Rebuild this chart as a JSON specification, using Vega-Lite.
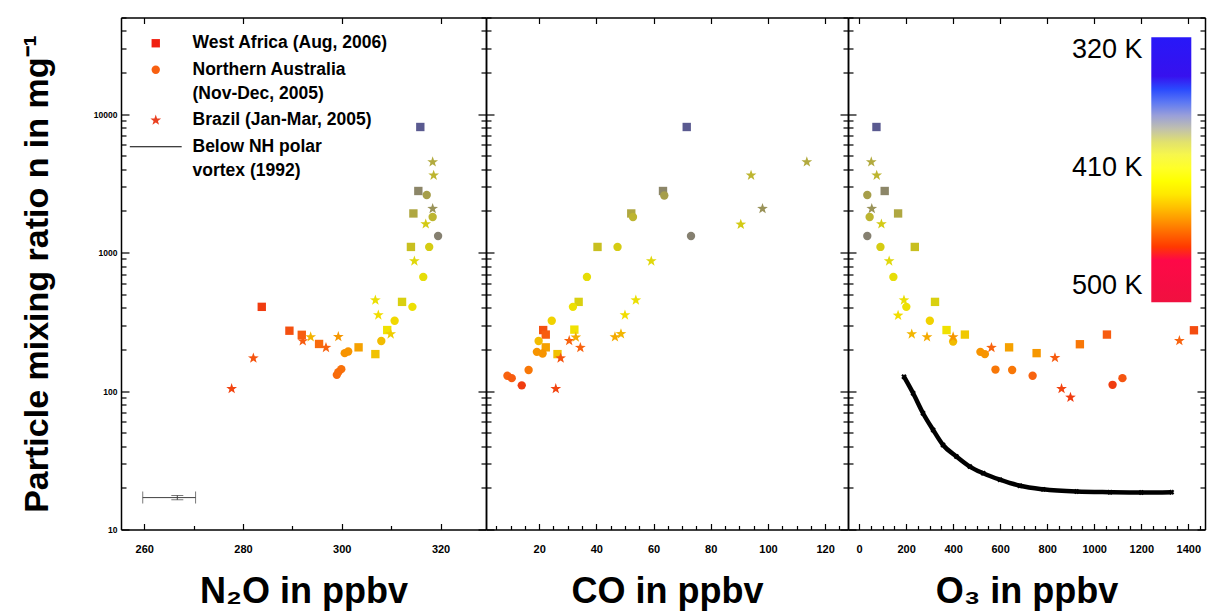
{
  "$schema": "https://vega.github.io/schema/vega-lite/v6.json",
  "autosize": {"type": "pad"},
  "padding": {"left": 19, "top": 13.5, "right": 4, "bottom": 3},
  "background": "white",
  "config": {
    "view": {"stroke": null},
    "style": {"guide-label": {"lineHeight": 24}},
    "axis": {"grid": false, "domainColor": "black", "domainWidth": 1.5, "tickColor": "black", "tickWidth": 1.2, "labelFont": "Liberation Sans", "labelFontWeight": "bold", "labelColor": "black", "titleFont": "Liberation Sans", "titleFontWeight": "bold", "titleColor": "black", "labelOverlap": false, "labelFlush": false, "labelBound": false}
  },
  "datasets": {
    "n2o": [
      {"region": "West Africa", "x": 315.9, "n": 8090, "theta": 358},
      {"region": "West Africa", "x": 315.5, "n": 2790, "theta": 370},
      {"region": "West Africa", "x": 314.5, "n": 1920, "theta": 381},
      {"region": "West Africa", "x": 314.0, "n": 1100, "theta": 390},
      {"region": "West Africa", "x": 312.2, "n": 441, "theta": 398},
      {"region": "West Africa", "x": 309.2, "n": 276, "theta": 418},
      {"region": "West Africa", "x": 306.8, "n": 185, "theta": 432},
      {"region": "West Africa", "x": 303.4, "n": 207, "theta": 443},
      {"region": "West Africa", "x": 295.4, "n": 219, "theta": 460},
      {"region": "West Africa", "x": 291.9, "n": 255, "theta": 464},
      {"region": "West Africa", "x": 289.4, "n": 273, "theta": 467},
      {"region": "West Africa", "x": 283.8, "n": 406, "theta": 472},
      {"region": "Northern Australia", "x": 317.2, "n": 2610, "theta": 378},
      {"region": "Northern Australia", "x": 318.4, "n": 1810, "theta": 386},
      {"region": "Northern Australia", "x": 319.5, "n": 1320, "theta": 368},
      {"region": "Northern Australia", "x": 317.7, "n": 1100, "theta": 396},
      {"region": "Northern Australia", "x": 316.5, "n": 668, "theta": 406},
      {"region": "Northern Australia", "x": 314.3, "n": 406, "theta": 414},
      {"region": "Northern Australia", "x": 310.7, "n": 322, "theta": 424},
      {"region": "Northern Australia", "x": 308.0, "n": 230, "theta": 434},
      {"region": "Northern Australia", "x": 300.6, "n": 188, "theta": 447},
      {"region": "Northern Australia", "x": 301.3, "n": 193, "theta": 447},
      {"region": "Northern Australia", "x": 299.9, "n": 144, "theta": 458},
      {"region": "Northern Australia", "x": 299.0, "n": 131, "theta": 460},
      {"region": "Northern Australia", "x": 299.3, "n": 137, "theta": 459},
      {"region": "Brazil", "x": 318.4, "n": 4520, "theta": 382},
      {"region": "Brazil", "x": 318.6, "n": 3620, "theta": 386},
      {"region": "Brazil", "x": 318.4, "n": 2080, "theta": 374},
      {"region": "Brazil", "x": 317.0, "n": 1610, "theta": 395},
      {"region": "Brazil", "x": 314.7, "n": 869, "theta": 402},
      {"region": "Brazil", "x": 306.8, "n": 454, "theta": 412},
      {"region": "Brazil", "x": 307.4, "n": 354, "theta": 422},
      {"region": "Brazil", "x": 309.9, "n": 258, "theta": 428},
      {"region": "Brazil", "x": 299.3, "n": 247, "theta": 446},
      {"region": "Brazil", "x": 296.8, "n": 206, "theta": 462},
      {"region": "Brazil", "x": 293.7, "n": 246, "theta": 437},
      {"region": "Brazil", "x": 292.1, "n": 230, "theta": 464},
      {"region": "Brazil", "x": 282.1, "n": 173, "theta": 466},
      {"region": "Brazil", "x": 277.7, "n": 104, "theta": 470}
    ],
    "co": [
      {"region": "West Africa", "x": 71.6, "n": 8090, "theta": 358},
      {"region": "West Africa", "x": 63.3, "n": 2790, "theta": 370},
      {"region": "West Africa", "x": 52.2, "n": 1920, "theta": 381},
      {"region": "West Africa", "x": 40.4, "n": 1100, "theta": 390},
      {"region": "West Africa", "x": 33.8, "n": 441, "theta": 398},
      {"region": "West Africa", "x": 32.3, "n": 278, "theta": 418},
      {"region": "West Africa", "x": 21.4, "n": 276, "theta": 467},
      {"region": "West Africa", "x": 22.3, "n": 256, "theta": 464},
      {"region": "West Africa", "x": 22.3, "n": 207, "theta": 443},
      {"region": "West Africa", "x": 26.4, "n": 185, "theta": 432},
      {"region": "Northern Australia", "x": 63.75, "n": 2590, "theta": 378},
      {"region": "Northern Australia", "x": 52.8, "n": 1810, "theta": 386},
      {"region": "Northern Australia", "x": 73.1, "n": 1320, "theta": 368},
      {"region": "Northern Australia", "x": 47.4, "n": 1100, "theta": 396},
      {"region": "Northern Australia", "x": 36.7, "n": 668, "theta": 406},
      {"region": "Northern Australia", "x": 31.8, "n": 406, "theta": 414},
      {"region": "Northern Australia", "x": 24.4, "n": 322, "theta": 426},
      {"region": "Northern Australia", "x": 19.8, "n": 230, "theta": 434},
      {"region": "Northern Australia", "x": 19.2, "n": 192, "theta": 447},
      {"region": "Northern Australia", "x": 21.2, "n": 187, "theta": 447},
      {"region": "Northern Australia", "x": 16.3, "n": 142, "theta": 456},
      {"region": "Northern Australia", "x": 8.9, "n": 129, "theta": 462},
      {"region": "Northern Australia", "x": 10.4, "n": 124, "theta": 464},
      {"region": "Northern Australia", "x": 13.9, "n": 110, "theta": 472},
      {"region": "Brazil", "x": 113.6, "n": 4520, "theta": 382},
      {"region": "Brazil", "x": 94.1, "n": 3620, "theta": 386},
      {"region": "Brazil", "x": 98.1, "n": 2080, "theta": 374},
      {"region": "Brazil", "x": 90.5, "n": 1600, "theta": 395},
      {"region": "Brazil", "x": 59.2, "n": 869, "theta": 402},
      {"region": "Brazil", "x": 53.8, "n": 454, "theta": 412},
      {"region": "Brazil", "x": 50.0, "n": 354, "theta": 422},
      {"region": "Brazil", "x": 48.6, "n": 259, "theta": 436},
      {"region": "Brazil", "x": 46.5, "n": 246, "theta": 440},
      {"region": "Brazil", "x": 30.5, "n": 231, "theta": 462},
      {"region": "Brazil", "x": 32.8, "n": 245, "theta": 440},
      {"region": "Brazil", "x": 34.4, "n": 206, "theta": 462},
      {"region": "Brazil", "x": 27.5, "n": 173, "theta": 466},
      {"region": "Brazil", "x": 25.8, "n": 104, "theta": 470}
    ],
    "o3": [
      {"region": "West Africa", "x": 74, "n": 8090, "theta": 358},
      {"region": "West Africa", "x": 109, "n": 2790, "theta": 370},
      {"region": "West Africa", "x": 166, "n": 1920, "theta": 381},
      {"region": "West Africa", "x": 237, "n": 1100, "theta": 390},
      {"region": "West Africa", "x": 323, "n": 441, "theta": 398},
      {"region": "West Africa", "x": 372, "n": 276, "theta": 418},
      {"region": "West Africa", "x": 450, "n": 256, "theta": 430},
      {"region": "West Africa", "x": 638, "n": 207, "theta": 443},
      {"region": "West Africa", "x": 755, "n": 188, "theta": 446},
      {"region": "West Africa", "x": 939, "n": 218, "theta": 456},
      {"region": "West Africa", "x": 1054, "n": 256, "theta": 464},
      {"region": "West Africa", "x": 1424, "n": 275, "theta": 468},
      {"region": "Northern Australia", "x": 35, "n": 2610, "theta": 378},
      {"region": "Northern Australia", "x": 45, "n": 1810, "theta": 386},
      {"region": "Northern Australia", "x": 35, "n": 1320, "theta": 368},
      {"region": "Northern Australia", "x": 91, "n": 1100, "theta": 396},
      {"region": "Northern Australia", "x": 146, "n": 668, "theta": 406},
      {"region": "Northern Australia", "x": 201, "n": 406, "theta": 414},
      {"region": "Northern Australia", "x": 301, "n": 322, "theta": 426},
      {"region": "Northern Australia", "x": 400, "n": 228, "theta": 434},
      {"region": "Northern Australia", "x": 516, "n": 192, "theta": 447},
      {"region": "Northern Australia", "x": 535, "n": 185, "theta": 447},
      {"region": "Northern Australia", "x": 580, "n": 143, "theta": 456},
      {"region": "Northern Australia", "x": 651, "n": 142, "theta": 456},
      {"region": "Northern Australia", "x": 738, "n": 129, "theta": 462},
      {"region": "Northern Australia", "x": 1078, "n": 111, "theta": 472},
      {"region": "Northern Australia", "x": 1120, "n": 124, "theta": 466},
      {"region": "Brazil", "x": 52, "n": 4520, "theta": 382},
      {"region": "Brazil", "x": 75, "n": 3620, "theta": 386},
      {"region": "Brazil", "x": 54, "n": 2080, "theta": 374},
      {"region": "Brazil", "x": 95, "n": 1610, "theta": 395},
      {"region": "Brazil", "x": 128, "n": 869, "theta": 402},
      {"region": "Brazil", "x": 191, "n": 454, "theta": 412},
      {"region": "Brazil", "x": 166, "n": 352, "theta": 422},
      {"region": "Brazil", "x": 224, "n": 258, "theta": 436},
      {"region": "Brazil", "x": 289, "n": 246, "theta": 440},
      {"region": "Brazil", "x": 400, "n": 246, "theta": 446},
      {"region": "Brazil", "x": 563, "n": 206, "theta": 462},
      {"region": "Brazil", "x": 833, "n": 174, "theta": 464},
      {"region": "Brazil", "x": 861, "n": 104, "theta": 470},
      {"region": "Brazil", "x": 899, "n": 90, "theta": 472},
      {"region": "Brazil", "x": 1362, "n": 231, "theta": 462}
    ],
    "vortex": [
      {"x": 191, "n": 127}, {"x": 230, "n": 96.4}, {"x": 272, "n": 69.2}, {"x": 315, "n": 52.4},
      {"x": 357, "n": 40.8}, {"x": 414, "n": 33.7}, {"x": 471, "n": 28.5}, {"x": 528, "n": 25.5},
      {"x": 599, "n": 22.9}, {"x": 684, "n": 20.7}, {"x": 783, "n": 19.5}, {"x": 925, "n": 18.8},
      {"x": 1067, "n": 18.6}, {"x": 1200, "n": 18.5}, {"x": 1329, "n": 18.6}
    ]
  },
  "spacing": 0,
  "bounds": "flush",
  "resolve": {"scale": {"x": "independent", "y": "independent", "shape": "independent", "fill": "independent", "stroke": "independent"}, "axis": {"x": "independent", "y": "independent"}},
  "hconcat": [
    {
      "width": 365, "height": 512,
      "layer": [
        {
          "data": {"name": "n2o"},
          "mark": {"type": "point", "filled": true, "opacity": 1, "size": 70},
          "encoding": {
            "x": {"field": "x", "type": "quantitative", "scale": {"domain": [255.3, 329.2], "nice": false, "zero": false},
              "axis": {"orient": "bottom", "values": [260, 270, 280, 290, 300, 310, 320], "labelExpr": "datum.value % 20 == 0 ? datum.label : ''", "tickSize": {"condition": {"test": "datum.value % 20 == 0", "value": -6}, "value": -4}, "labelPadding": 19.5, "labelFontSize": 11, "title": "N₂O in ppbv", "titleFontSize": 36, "titleY": 73, "titleBaseline": "alphabetic"}},
            "y": {"field": "n", "type": "quantitative", "scale": {"type": "log", "domain": [10, 50000], "nice": false},
              "axis": {"orient": "left", "values": [10, 20, 30, 40, 50, 60, 70, 80, 90, 100, 200, 300, 400, 500, 600, 700, 800, 900, 1000, 2000, 3000, 4000, 5000, 6000, 7000, 8000, 9000, 10000, 20000, 30000, 40000, 50000], "format": "d", "labelExpr": "indexof([10, 100, 1000, 10000], datum.value) >= 0 ? datum.label : ''", "tickSize": {"condition": {"test": "indexof([10, 100, 1000, 10000], datum.value) >= 0", "value": -8}, "value": -5}, "labelPadding": 12, "labelFontSize": 8.5, "title": "Particle mixing ratio n in mg⁻¹", "titleFontSize": 34, "titleX": -74, "titleBaseline": "alphabetic", "titleAngle": 270}},
            "shape": {"field": "region", "type": "nominal",
              "scale": {"domain": ["West Africa", "Northern Australia", "Brazil", "Below NH polar vortex"], "range": ["square", "circle", "M0,-1.35L0.317,-0.437L1.284,-0.417L0.514,0.167L0.794,1.092L0,0.54L-0.794,1.092L-0.514,0.167L-1.284,-0.417L-0.317,-0.437Z", "M-6.2,0L6.2,0"]},
              "legend": {"title": null, "orient": "none", "legendX": 26, "legendY": 17, "direction": "vertical", "padding": 0, "rowPadding": 7.5, "symbolOffset": 0, "labelOffset": 28, "labelFont": "Liberation Sans", "labelFontSize": 17.5, "labelFontWeight": "bold", "labelColor": "black", "labelLimit": 500, "symbolSize": 70, "symbolStrokeWidth": 1.2, "symbolOpacity": 1,
                "labelExpr": "datum.value == 'Northern Australia' ? ['Northern Australia', '(Nov-Dec, 2005)'] : datum.value == 'Below NH polar vortex' ? ['Below NH polar', 'vortex (1992)'] : datum.value == 'West Africa' ? 'West Africa (Aug, 2006)' : 'Brazil (Jan-Mar, 2005)'"}},
            "color": {"field": "theta", "type": "quantitative", "legend": null,
              "scale": {"type": "linear", "zero": false, "nice": false, "interpolate": "rgb", "domain": [310, 345, 348, 358, 368, 376, 384, 392, 404, 420, 430, 440, 451, 463, 472, 475, 478, 512], "range": ["#2818f8", "#3a20c8", "#3a3ab8", "#5a5a90", "#858070", "#a09850", "#b8b038", "#cdc418", "#e4dc08", "#f2e200", "#f0c800", "#f4aa00", "#f88800", "#f86010", "#f03c10", "#f02810", "#f01838", "#f01040"]}}
          }
        },
        {
          "data": {"values": []},
          "mark": {"type": "point", "filled": true, "opacity": 1, "size": 70},
          "encoding": {
            "fill": {"field": "region", "type": "nominal",
              "scale": {"domain": ["West Africa", "Northern Australia", "Brazil", "Below NH polar vortex"], "range": ["#f02010", "#f86010", "#ea4020", "transparent"]},
              "legend": {"title": null, "orient": "none", "legendX": 26, "legendY": 17, "direction": "vertical", "padding": 0, "rowPadding": 7.5, "symbolOffset": 0, "labelOffset": 28, "labelFont": "Liberation Sans", "labelFontSize": 17.5, "labelFontWeight": "bold", "labelColor": "black", "labelLimit": 500, "symbolSize": 70, "symbolStrokeWidth": 1.2, "symbolOpacity": 1,
                "labelExpr": "datum.value == 'Northern Australia' ? ['Northern Australia', '(Nov-Dec, 2005)'] : datum.value == 'Below NH polar vortex' ? ['Below NH polar', 'vortex (1992)'] : datum.value == 'West Africa' ? 'West Africa (Aug, 2006)' : 'Brazil (Jan-Mar, 2005)'"}},
            "stroke": {"field": "region", "type": "nominal",
              "scale": {"domain": ["West Africa", "Northern Australia", "Brazil", "Below NH polar vortex"], "range": ["transparent", "transparent", "transparent", "black"]},
              "legend": {"title": null, "orient": "none", "legendX": 26, "legendY": 17, "direction": "vertical", "padding": 0, "rowPadding": 7.5, "symbolOffset": 0, "labelOffset": 28, "labelFont": "Liberation Sans", "labelFontSize": 17.5, "labelFontWeight": "bold", "labelColor": "black", "labelLimit": 500, "symbolSize": 70, "symbolStrokeWidth": 1.2, "symbolOpacity": 1,
                "labelExpr": "datum.value == 'Northern Australia' ? ['Northern Australia', '(Nov-Dec, 2005)'] : datum.value == 'Below NH polar vortex' ? ['Below NH polar', 'vortex (1992)'] : datum.value == 'West Africa' ? 'West Africa (Aug, 2006)' : 'Brazil (Jan-Mar, 2005)'"}}
          }
        },
        {
          "data": {"values": [{"lo": 259.7, "hi": 270.4, "n": 17.0}]},
          "mark": {"type": "errorbar", "ticks": {"size": 12}, "color": "#404040"},
          "encoding": {
            "x": {"field": "lo", "type": "quantitative", "scale": {"domain": [255.3, 329.2], "nice": false, "zero": false}, "axis": null},
            "x2": {"field": "hi"},
            "y": {"field": "n", "type": "quantitative", "scale": {"type": "log", "domain": [10, 50000], "nice": false}, "axis": null}
          }
        },
        {
          "data": {"values": [{"x": 266.7, "lo": 16.4, "hi": 17.6}]},
          "mark": {"type": "errorbar", "ticks": {"size": 12}, "color": "#404040"},
          "encoding": {
            "x": {"field": "x", "type": "quantitative", "scale": {"domain": [255.3, 329.2], "nice": false, "zero": false}, "axis": null},
            "y": {"field": "lo", "type": "quantitative", "scale": {"type": "log", "domain": [10, 50000], "nice": false}, "axis": null},
            "y2": {"field": "hi"}
          }
        },
        {
          "data": {"name": "n2o"},
          "mark": {"type": "point", "size": 0, "opacity": 0},
          "encoding": {
            "x": {"field": "x", "type": "quantitative", "scale": {"domain": [255.3, 329.2], "nice": false, "zero": false},
              "axis": {"orient": "top", "values": [260, 280, 300, 320], "labels": false, "title": null, "tickSize": -6}},
            "y": {"field": "n", "type": "quantitative", "scale": {"type": "log", "domain": [10, 50000], "nice": false},
              "axis": {"orient": "right", "values": [10, 20, 30, 40, 50, 60, 70, 80, 90, 100, 200, 300, 400, 500, 600, 700, 800, 900, 1000, 2000, 3000, 4000, 5000, 6000, 7000, 8000, 9000, 10000, 20000, 30000, 40000, 50000], "labels": false, "title": null, "tickSize": {"condition": {"test": "indexof([10, 100, 1000, 10000], datum.value) >= 0", "value": -8}, "value": -5}}}
          }
        }
      ],
      "resolve": {"axis": {"x": "independent", "y": "independent"}}
    },
    {
      "width": 362, "height": 512,
      "layer": [
        {
          "data": {"name": "co"},
          "mark": {"type": "point", "filled": true, "opacity": 1, "size": 70},
          "encoding": {
            "x": {"field": "x", "type": "quantitative", "scale": {"domain": [1.4, 128], "nice": false, "zero": false},
              "axis": {"orient": "bottom", "values": [5, 10, 15, 20, 25, 30, 35, 40, 45, 50, 55, 60, 65, 70, 75, 80, 85, 90, 95, 100, 105, 110, 115, 120, 125], "labelExpr": "datum.value % 20 == 0 ? datum.label : ''", "tickSize": {"condition": {"test": "datum.value % 20 == 0", "value": -6}, "value": -4}, "labelPadding": 19.5, "labelFontSize": 11, "title": "CO in ppbv", "titleFontSize": 36, "titleY": 73, "titleBaseline": "alphabetic"}},
            "y": {"field": "n", "type": "quantitative", "scale": {"type": "log", "domain": [10, 50000], "nice": false},
              "axis": {"orient": "left", "values": [10, 20, 30, 40, 50, 60, 70, 80, 90, 100, 200, 300, 400, 500, 600, 700, 800, 900, 1000, 2000, 3000, 4000, 5000, 6000, 7000, 8000, 9000, 10000, 20000, 30000, 40000, 50000], "labels": false, "title": null, "tickSize": {"condition": {"test": "indexof([10, 100, 1000, 10000], datum.value) >= 0", "value": -8}, "value": -5}}},
            "shape": {"field": "region", "type": "nominal", "legend": null,
              "scale": {"domain": ["West Africa", "Northern Australia", "Brazil", "Below NH polar vortex"], "range": ["square", "circle", "M0,-1.35L0.317,-0.437L1.284,-0.417L0.514,0.167L0.794,1.092L0,0.54L-0.794,1.092L-0.514,0.167L-1.284,-0.417L-0.317,-0.437Z", "M-6.2,0L6.2,0"]}},
            "color": {"field": "theta", "type": "quantitative", "legend": null,
              "scale": {"type": "linear", "zero": false, "nice": false, "interpolate": "rgb", "domain": [310, 345, 348, 358, 368, 376, 384, 392, 404, 420, 430, 440, 451, 463, 472, 475, 478, 512], "range": ["#2818f8", "#3a20c8", "#3a3ab8", "#5a5a90", "#858070", "#a09850", "#b8b038", "#cdc418", "#e4dc08", "#f2e200", "#f0c800", "#f4aa00", "#f88800", "#f86010", "#f03c10", "#f02810", "#f01838", "#f01040"]}}
          }
        },
        {
          "data": {"name": "co"},
          "mark": {"type": "point", "size": 0, "opacity": 0},
          "encoding": {
            "x": {"field": "x", "type": "quantitative", "scale": {"domain": [1.4, 128], "nice": false, "zero": false},
              "axis": {"orient": "top", "values": [20, 40, 60, 80, 100, 120], "labels": false, "title": null, "tickSize": -6}},
            "y": {"field": "n", "type": "quantitative", "scale": {"type": "log", "domain": [10, 50000], "nice": false},
              "axis": {"orient": "right", "values": [10, 20, 30, 40, 50, 60, 70, 80, 90, 100, 200, 300, 400, 500, 600, 700, 800, 900, 1000, 2000, 3000, 4000, 5000, 6000, 7000, 8000, 9000, 10000, 20000, 30000, 40000, 50000], "labels": false, "title": null, "tickSize": {"condition": {"test": "indexof([10, 100, 1000, 10000], datum.value) >= 0", "value": -8}, "value": -5}}}
          }
        }
      ],
      "resolve": {"axis": {"x": "independent", "y": "independent"}}
    },
    {
      "width": 357, "height": 512,
      "layer": [
        {
          "data": {"name": "vortex"},
          "mark": {"type": "line", "color": "black", "strokeWidth": 4.5, "interpolate": "monotone"},
          "encoding": {
            "x": {"field": "x", "type": "quantitative", "scale": {"domain": [-47, 1471], "nice": false, "zero": false}, "axis": null},
            "y": {"field": "n", "type": "quantitative", "scale": {"type": "log", "domain": [10, 50000], "nice": false}, "axis": null}
          }
        },
        {
          "data": {"name": "vortex"},
          "mark": {"type": "point", "shape": "cross", "angle": 45, "size": 30, "filled": true, "color": "black", "opacity": 1},
          "encoding": {
            "x": {"field": "x", "type": "quantitative", "scale": {"domain": [-47, 1471], "nice": false, "zero": false}, "axis": null},
            "y": {"field": "n", "type": "quantitative", "scale": {"type": "log", "domain": [10, 50000], "nice": false}, "axis": null}
          }
        },
        {
          "data": {"name": "o3"},
          "mark": {"type": "point", "filled": true, "opacity": 1, "size": 70},
          "encoding": {
            "x": {"field": "x", "type": "quantitative", "scale": {"domain": [-47, 1471], "nice": false, "zero": false},
              "axis": {"orient": "bottom", "values": [0, 50, 100, 150, 200, 250, 300, 350, 400, 450, 500, 550, 600, 650, 700, 750, 800, 850, 900, 950, 1000, 1050, 1100, 1150, 1200, 1250, 1300, 1350, 1400, 1450], "format": "d", "labelExpr": "datum.value % 200 == 0 ? datum.label : ''", "tickSize": {"condition": {"test": "datum.value % 200 == 0", "value": -6}, "value": -4}, "labelPadding": 19.5, "labelFontSize": 11, "title": "O₃ in ppbv", "titleFontSize": 36, "titleY": 73, "titleBaseline": "alphabetic"}},
            "y": {"field": "n", "type": "quantitative", "scale": {"type": "log", "domain": [10, 50000], "nice": false},
              "axis": {"orient": "left", "values": [10, 20, 30, 40, 50, 60, 70, 80, 90, 100, 200, 300, 400, 500, 600, 700, 800, 900, 1000, 2000, 3000, 4000, 5000, 6000, 7000, 8000, 9000, 10000, 20000, 30000, 40000, 50000], "labels": false, "title": null, "tickSize": {"condition": {"test": "indexof([10, 100, 1000, 10000], datum.value) >= 0", "value": -8}, "value": -5}}},
            "shape": {"field": "region", "type": "nominal", "legend": null,
              "scale": {"domain": ["West Africa", "Northern Australia", "Brazil", "Below NH polar vortex"], "range": ["square", "circle", "M0,-1.35L0.317,-0.437L1.284,-0.417L0.514,0.167L0.794,1.092L0,0.54L-0.794,1.092L-0.514,0.167L-1.284,-0.417L-0.317,-0.437Z", "M-6.2,0L6.2,0"]}},
            "color": {"field": "theta", "type": "quantitative", "legend": null,
              "scale": {"type": "linear", "zero": false, "nice": false, "interpolate": "rgb", "domain": [310, 345, 348, 358, 368, 376, 384, 392, 404, 420, 430, 440, 451, 463, 472, 475, 478, 512], "range": ["#2818f8", "#3a20c8", "#3a3ab8", "#5a5a90", "#858070", "#a09850", "#b8b038", "#cdc418", "#e4dc08", "#f2e200", "#f0c800", "#f4aa00", "#f88800", "#f86010", "#f03c10", "#f02810", "#f01838", "#f01040"]}}
          }
        },
        {
          "data": {"name": "o3"},
          "mark": {"type": "point", "size": 0, "filled": true, "opacity": 1},
          "encoding": {
            "x": {"field": "x", "type": "quantitative", "scale": {"domain": [-47, 1471], "nice": false, "zero": false},
              "axis": {"orient": "top", "values": [0, 200, 400, 600, 800, 1000, 1200, 1400], "labels": false, "title": null, "tickSize": -6}},
            "y": {"field": "n", "type": "quantitative", "scale": {"type": "log", "domain": [10, 50000], "nice": false},
              "axis": {"orient": "right", "values": [10, 20, 30, 40, 50, 60, 70, 80, 90, 100, 200, 300, 400, 500, 600, 700, 800, 900, 1000, 2000, 3000, 4000, 5000, 6000, 7000, 8000, 9000, 10000, 20000, 30000, 40000, 50000], "labels": false, "title": null, "tickSize": {"condition": {"test": "indexof([10, 100, 1000, 10000], datum.value) >= 0", "value": -8}, "value": -5}}},
            "fill": {"field": "theta", "type": "quantitative",
              "scale": {"type": "linear", "zero": false, "nice": false, "interpolate": "rgb", "domain": [512, 478, 475, 472, 463, 451, 440, 430, 420, 404, 392, 384, 376, 368, 358, 348, 345, 310.4], "range": ["#f01040", "#ff0848", "#ff2010", "#ff3000", "#ff5800", "#ff9000", "#ffc000", "#ffe800", "#ffff00", "#ffff40", "#e8e860", "#cccc98", "#b4b4c4", "#9098e0", "#5070f8", "#2040ff", "#3a10ec", "#2818f8"]},
              "legend": {"type": "gradient", "orient": "none", "legendX": 303.3, "legendY": 19.7, "direction": "vertical", "title": null, "gradientLength": 265, "gradientThickness": 40, "gradientStrokeWidth": 0, "values": [320, 410, 500], "tickCount": 100, "labelExpr": "datum.value + ' K'", "labelOffset": -119.3, "labelFont": "Liberation Sans", "labelFontSize": 27, "labelFontWeight": "normal", "labelColor": "black", "padding": 0, "labelOverlap": false, "labelLimit": 200}}
          }
        }
      ],
      "resolve": {"axis": {"x": "independent", "y": "independent"}}
    }
  ]
}
